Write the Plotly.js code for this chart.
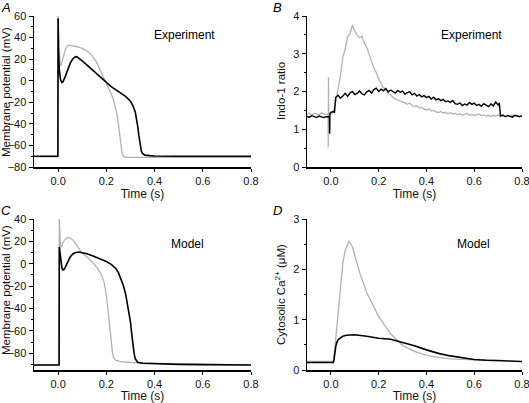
<!DOCTYPE html>
<html><head><meta charset="utf-8">
<script src="https://cdn.plot.ly/plotly-3.0.1.min.js"></script>
<style>html,body{margin:0;padding:0;background:#fff;}#chart{width:529px;height:403px;}</style>
</head><body><div id="chart"></div>
<script>
// Panel A: experiment, membrane potential (mV)
const aBlackT = [-0.1,-0.001,0.0,0.001,0.005,0.01,0.015,0.02,0.03,0.04,0.05,0.06,0.07,0.077,0.09,0.1,0.12,0.14,0.16,0.18,0.2,0.22,0.24,0.26,0.28,0.3,0.31,0.32,0.325,0.33,0.335,0.34,0.345,0.35,0.36,0.38,0.4,0.5,0.6,0.7,0.8];
const aBlackV = [-70,-70,58,30,10,1,-1.5,-1,4,11,16,20,22,22.3,20.5,18.5,14.5,10.5,6.5,2.5,-2,-5.5,-8.5,-11.5,-14.5,-19,-23,-29,-34,-42,-51,-60,-65,-67.5,-69,-69.5,-69.8,-70,-70,-70,-70];
const aGrayT = [-0.1,-0.001,0.0,0.003,0.008,0.012,0.02,0.03,0.042,0.06,0.08,0.1,0.12,0.14,0.16,0.18,0.19,0.2,0.21,0.22,0.23,0.24,0.245,0.25,0.255,0.26,0.265,0.27,0.28,0.3,0.4,0.6,0.8];
const aGrayV = [-70.5,-70.5,60,35,15,14,22,29,33,32.5,31.5,30,27.5,23.5,17,7,2.5,-3,-7.5,-12,-18,-26,-32,-40,-50,-60,-67,-70,-71,-71,-71,-71,-71];

// Panel B: experiment, Indo-1 ratio
const bBlackT = [-0.1,-0.09,-0.08,-0.07,-0.06,-0.05,-0.04,-0.03,-0.02,-0.01,-0.006,-0.005,-0.004,0.0,0.01,0.015,0.02,0.03,0.04,0.05,0.06,0.07,0.08,0.09,0.1,0.11,0.12,0.13,0.14,0.15,0.16,0.17,0.18,0.19,0.2,0.21,0.22,0.23,0.24,0.25,0.26,0.27,0.28,0.29,0.3,0.31,0.32,0.33,0.34,0.35,0.36,0.37,0.38,0.39,0.4,0.41,0.42,0.43,0.44,0.45,0.46,0.47,0.48,0.49,0.5,0.51,0.52,0.53,0.54,0.55,0.56,0.57,0.58,0.59,0.6,0.61,0.62,0.63,0.64,0.65,0.66,0.67,0.68,0.69,0.7,0.705,0.71,0.72,0.73,0.74,0.75,0.76,0.77,0.78,0.79,0.8];
const bBlackV = [1.34,1.32,1.36,1.33,1.31,1.35,1.34,1.31,1.33,1.34,1.33,0.88,1.42,1.45,1.47,1.44,1.84,1.90,1.82,1.88,1.95,1.87,1.96,2.00,1.92,1.95,2.01,1.94,1.91,1.99,2.03,1.96,2.05,2.09,2.00,2.06,2.02,2.08,1.99,2.04,2.01,1.96,2.03,1.98,2.01,1.93,1.97,1.99,1.91,1.95,1.88,1.92,1.86,1.89,1.84,1.87,1.80,1.85,1.78,1.81,1.76,1.79,1.73,1.75,1.71,1.76,1.68,1.66,1.70,1.63,1.67,1.64,1.71,1.66,1.69,1.63,1.66,1.61,1.68,1.64,1.60,1.67,1.62,1.72,1.64,1.70,1.35,1.37,1.33,1.36,1.34,1.32,1.37,1.35,1.33,1.36];
const bGrayT = [-0.1,-0.09,-0.08,-0.07,-0.06,-0.05,-0.04,-0.03,-0.02,-0.012,-0.011,-0.010,-0.009,0.0,0.01,0.02,0.03,0.04,0.05,0.06,0.07,0.08,0.09,0.1,0.11,0.12,0.13,0.14,0.15,0.16,0.17,0.18,0.19,0.2,0.21,0.22,0.23,0.24,0.25,0.26,0.27,0.28,0.29,0.3,0.31,0.32,0.33,0.34,0.35,0.36,0.37,0.38,0.39,0.4,0.41,0.42,0.43,0.44,0.45,0.46,0.47,0.48,0.49,0.5,0.51,0.52,0.53,0.54,0.55,0.56,0.57,0.58,0.59,0.6,0.61,0.62,0.63,0.64,0.65,0.66,0.67,0.68,0.69,0.7,0.71,0.72,0.73,0.74,0.75,0.76,0.77,0.78,0.79,0.8];
const bGrayV = [1.40,1.43,1.38,1.42,1.41,1.38,1.43,1.40,1.39,1.41,0.52,2.38,1.42,1.40,1.45,1.72,2.08,2.42,2.92,3.12,3.46,3.52,3.76,3.60,3.50,3.42,3.47,3.28,3.17,2.98,2.85,2.62,2.50,2.33,2.22,2.10,2.06,1.94,1.91,1.84,1.80,1.78,1.74,1.72,1.70,1.66,1.69,1.63,1.60,1.62,1.56,1.58,1.53,1.51,1.54,1.48,1.50,1.46,1.44,1.47,1.43,1.45,1.41,1.44,1.40,1.42,1.39,1.41,1.37,1.40,1.42,1.37,1.39,1.36,1.38,1.40,1.36,1.38,1.35,1.37,1.34,1.37,1.35,1.38,1.36,1.39,1.35,1.37,1.34,1.38,1.35,1.37,1.34,1.36];

// Panel C: model, membrane potential (mV)
const cBlackT = [-0.1,0.004,0.005,0.008,0.012,0.016,0.02,0.025,0.03,0.04,0.05,0.06,0.07,0.085,0.1,0.12,0.15,0.18,0.2,0.22,0.24,0.25,0.26,0.27,0.28,0.29,0.3,0.305,0.31,0.315,0.32,0.33,0.35,0.4,0.5,0.6,0.8];
const cBlackV = [-90.5,-90.5,15,8,0,-4,-5.5,-5,-3,2,6,8.5,9.8,10.5,10,9,6.5,4,2,-0.5,-4.5,-8,-13,-19,-27,-38,-52,-62,-72,-80,-85,-88,-89,-89.5,-90,-90.2,-90.5];
const cGrayT = [-0.1,0.004,0.005,0.007,0.01,0.015,0.02,0.03,0.04,0.05,0.06,0.08,0.1,0.12,0.14,0.16,0.17,0.18,0.19,0.195,0.2,0.205,0.21,0.215,0.22,0.225,0.23,0.24,0.26,0.3,0.4,0.5,0.6,0.8];
const cGrayV = [-90.5,-90.5,40,25,15,16,19,22,23.5,23,21.5,15.5,9.5,6,2,-3,-6,-10,-16,-21,-28,-37,-48,-60,-71,-79,-84,-86.5,-87.5,-88.3,-89,-89.5,-90,-90.5];

// Panel D: model, cytosolic Ca2+ (uM)
const dBlackT = [-0.1,0.01,0.013,0.016,0.02,0.025,0.03,0.04,0.05,0.065,0.08,0.1,0.15,0.2,0.25,0.3,0.35,0.4,0.45,0.5,0.55,0.6,0.65,0.7,0.75,0.8];
const dBlackV = [0.15,0.15,0.2,0.33,0.46,0.55,0.6,0.64,0.67,0.69,0.70,0.70,0.67,0.63,0.61,0.55,0.48,0.40,0.33,0.28,0.24,0.21,0.195,0.185,0.175,0.17];
const dGrayT = [-0.1,0.01,0.015,0.02,0.03,0.04,0.05,0.06,0.07,0.075,0.08,0.09,0.1,0.12,0.15,0.2,0.25,0.3,0.35,0.4,0.45,0.5,0.6,0.7,0.72];
const dGrayV = [0.17,0.17,0.35,0.6,1.19,1.72,2.12,2.38,2.52,2.55,2.53,2.45,2.28,1.94,1.54,1.06,0.72,0.49,0.37,0.29,0.25,0.22,0.2,0.19,0.19];

const xTicks = [0.0,0.2,0.4,0.6,0.8];
const xTickText = ['0.0','0.2','0.4','0.6','0.8'];
const panelLetters = ['A','B','C','D'];
const panelNotes = ['Experiment','Experiment','Model','Model'];
const yTitles = ['Membrane potential (mV)','Indo-1 ratio','Membrane potential (mV)','Cytosolic Ca<sup>2+</sup> (μM)'];

const GRAY = '#b2b2b2', BLACK = '#000000';
const FONT = 'Liberation Sans, Arial, Helvetica, sans-serif';
function tr(x, y, color, xa, ya, w) {
  return {x: x, y: y, type: 'scatter', mode: 'lines', xaxis: xa, yaxis: ya,
          line: {color: color, width: w}, hoverinfo: 'skip', showlegend: false};
}
const data = [
  tr(aGrayT, aGrayV, GRAY, 'x', 'y', 1.3), tr(aBlackT, aBlackV, BLACK, 'x', 'y', 1.6),
  tr(bGrayT, bGrayV, GRAY, 'x2', 'y2', 1.3), tr(bBlackT, bBlackV, BLACK, 'x2', 'y2', 1.4),
  tr(cGrayT, cGrayV, GRAY, 'x3', 'y3', 1.3), tr(cBlackT, cBlackV, BLACK, 'x3', 'y3', 1.6),
  tr(dGrayT, dGrayV, GRAY, 'x4', 'y4', 1.3), tr(dBlackT, dBlackV, BLACK, 'x4', 'y4', 1.6)
];

const W = 529, H = 403;
const colL = [34/W, 251/W], colR = [307/W, 522/W];
const rowT = [1-167/H, 1-16/H], rowB = [1-370/H, 1-219/H];

function xax(domain, anchor) {
  return {domain: domain, anchor: anchor, range: [-0.1, 0.8], tickvals: xTicks, ticktext: xTickText,
    showline: true, linecolor: '#000', linewidth: 1.5, ticks: 'outside', ticklen: 3, tickwidth: 1,
    tickcolor: '#000', showgrid: false, zeroline: false,
    ticklabeloverflow: 'allow',
    tickfont: {family: FONT, size: 11, color: '#111'}, automargin: false,
    title: {text: 'Time (s)', font: {family: FONT, size: 12, color: '#111'}, standoff: 4}};
}
function yax(domain, anchor, range, dtick, mdtick) {
  return {domain: domain, anchor: anchor, range: range, dtick: dtick, tick0: 0,
    showline: true, linecolor: '#000', linewidth: 1.5, ticks: 'outside', ticklen: 4, tickwidth: 1,
    tickcolor: '#000', minor: {ticks: 'outside', ticklen: 2, dtick: mdtick, tickcolor: '#000', tickwidth: 1},
    showgrid: false, zeroline: false, automargin: false,
    tickfont: {family: FONT, size: 11, color: '#111'}};
}

const ann = [];
const letterPos = [[6, 8], [277, 8], [6, 210], [277, 210]];
const notePos = [[184, 35], [471, 35], [187, 244], [473, 244]];
const yTitlePos = [[6, 92], [281, 91], [6, 290], [280, 295]];
for (let i = 0; i < 4; i++) {
  ann.push({xref: 'paper', yref: 'paper', x: letterPos[i][0]/W, y: 1-letterPos[i][1]/H,
    xanchor: 'center', yanchor: 'middle', showarrow: false, text: '<i>' + panelLetters[i] + '</i>',
    font: {family: FONT, size: 13, color: '#000'}});
  ann.push({xref: 'paper', yref: 'paper', x: notePos[i][0]/W, y: 1-notePos[i][1]/H,
    xanchor: 'center', yanchor: 'middle', showarrow: false, text: panelNotes[i],
    font: {family: FONT, size: 12, color: '#000'}});
  ann.push({xref: 'paper', yref: 'paper', x: yTitlePos[i][0]/W, y: 1-yTitlePos[i][1]/H,
    xanchor: 'center', yanchor: 'middle', showarrow: false, textangle: -90, text: yTitles[i],
    font: {family: FONT, size: 11.5, color: '#111'}});
}

const layout = {
  width: W, height: H, margin: {l: 0, r: 0, t: 0, b: 0},
  paper_bgcolor: '#fff', plot_bgcolor: 'rgba(0,0,0,0)', showlegend: false,
  font: {family: FONT},
  xaxis: xax(colL, 'y'), yaxis: yax(rowT, 'x', [-80, 60], 20, 10),
  xaxis2: xax(colR, 'y2'), yaxis2: yax(rowT, 'x2', [0, 4], 1, 0.5),
  xaxis3: xax(colL, 'y3'), yaxis3: yax(rowB, 'x3', [-95, 40], 20, 10),
  xaxis4: xax(colR, 'y4'), yaxis4: yax(rowB, 'x4', [0, 3], 1, 0.5),
  annotations: ann
};
Plotly.newPlot('chart', data, layout, {staticPlot: true, displayModeBar: false});
</script>
</body></html>
